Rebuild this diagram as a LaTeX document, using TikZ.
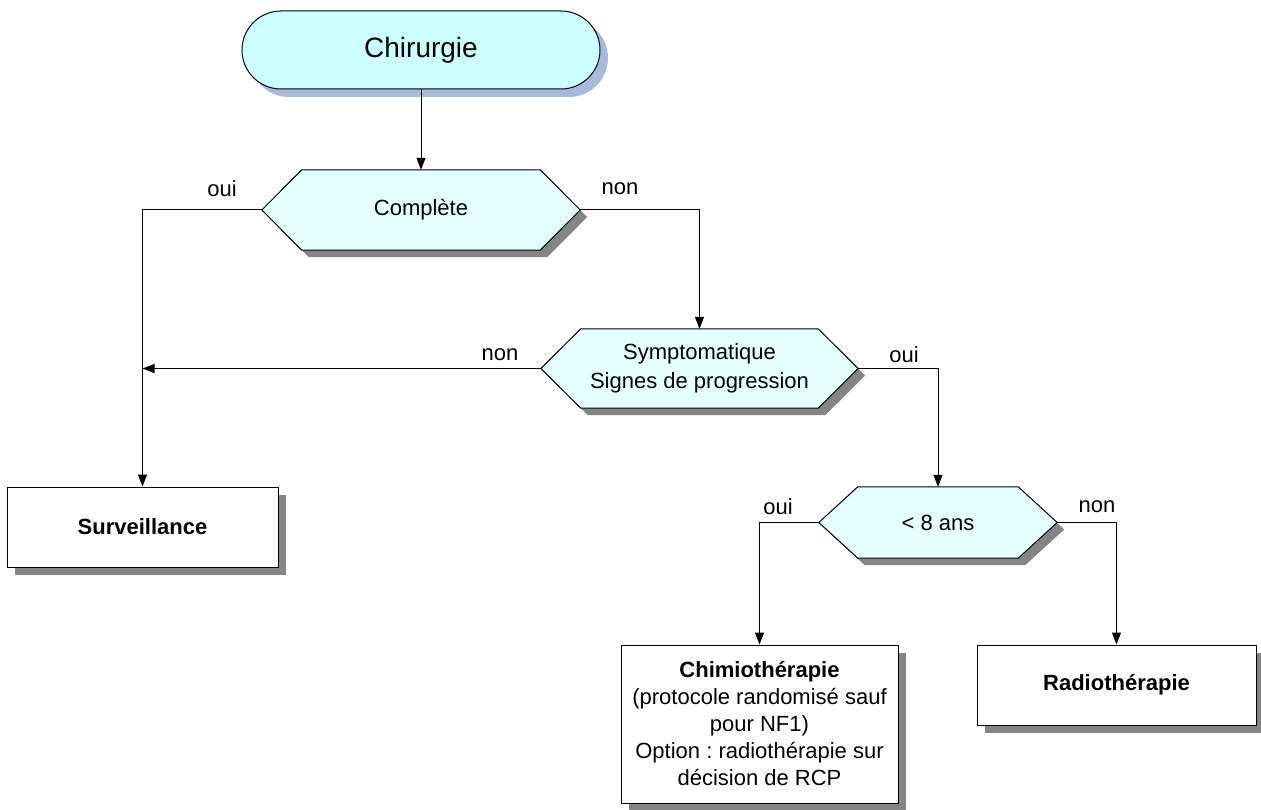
\documentclass[tikz,border=0pt]{standalone}
\usepackage{fontspec}
\setmainfont{Liberation Sans}
\frenchspacing
\usetikzlibrary{arrows.meta,shadows,backgrounds}
\definecolor{pillfill}{HTML}{CCFFFF}
\definecolor{hexfill}{HTML}{E6FFFF}
\definecolor{pillshadow}{HTML}{A8BADC}
\definecolor{boxshadow}{HTML}{858585}
\newcommand\hexpath[3]{([shift={(#3,#3)}]#1.west) -- ([shift={(#2+#3,#3)}]#1.north west) -- ([shift={(-#2+#3,#3)}]#1.north east) -- ([shift={(#3,#3)}]#1.east) -- ([shift={(-#2+#3,#3)}]#1.south east) -- ([shift={(#2+#3,#3)}]#1.south west) -- cycle}
\newcommand\drawhex[2]{%
  \begin{pgfonlayer}{background}
    \fill[boxshadow] \hexpath{#1}{#2}{7};
    \filldraw[fill=hexfill,draw=black,line width=1pt] \hexpath{#1}{#2}{0};
  \end{pgfonlayer}}
\tikzset{
  txt/.style={font=\fontsize{22}{25.3}\selectfont},
  pill/.style={txt,font=\fontsize{28}{32}\selectfont,draw,line width=1pt,fill=pillfill,rounded corners=39pt,
    minimum width=358pt,minimum height=78pt,inner sep=0pt,
    drop shadow={shadow xshift=8pt,shadow yshift=-8pt,fill=pillshadow,opacity=1}},
  hexnode/.style={txt,align=center,inner sep=0pt,minimum height=80pt},
  boxnode/.style={txt,align=center,draw,line width=1pt,fill=white,inner sep=0pt,minimum height=80pt,
    drop shadow={shadow xshift=8pt,shadow yshift=-8pt,fill=boxshadow,opacity=1}},
  lbl/.style={txt,inner sep=0pt},
  conn/.style={line width=1pt},
  arr/.style={conn,-{Triangle[length=12pt,width=9pt]}}
}
\begin{document}
\begin{tikzpicture}[x=1pt,y=-1pt]
\useasboundingbox (0,0) rectangle (1261,810);
\node[pill] (chir) at (421,50) {Chirurgie};
\node[hexnode,minimum width=318pt] (comp) at (421,210) {Complète};
\path (comp.center) ++(0,-1) coordinate (compc);
\drawhex{comp}{40}
\node[hexnode,minimum width=317pt,minimum height=79pt,font=\fontsize{22}{29}\selectfont] (symp) at (699.5,368.5) {Symptomatique\\Signes de progression};
\drawhex{symp}{40}
\node[hexnode,minimum width=238pt,minimum height=71pt] (age) at (938,522.5) {< 8 ans};
\drawhex{age}{39}
\node[boxnode,minimum width=271pt] (surv) at (142.5,527) {\textbf{Surveillance}};
\node[boxnode,minimum width=277pt,minimum height=158pt,font=\fontsize{22}{27}\selectfont] (chimio) at (759.5,724) {\textbf{Chimiothérapie}\\(protocole randomisé sauf\\pour NF1)\\Option : radiothérapie sur\\décision de RCP};
\node[boxnode,minimum width=279pt] (radio) at (1116.5,685) {\textbf{Radiothérapie}};
\draw[arr] (chir.south) -- (comp.north);
\draw[arr] (comp.west) -| (surv.north);
\draw[arr] (comp.east) -| (symp.north);
\draw[arr] (symp.west) -- (symp.west -| surv.north);
\draw[arr] (symp.east) -| (age.north);
\draw[arr] (age.west) -| (chimio.north);
\draw[arr] (age.east) -| (radio.north);
\node[lbl] (l1) at (222,189) {oui};
\node[lbl] (l2) at (620,189) {non};
\node[lbl] (l3) at (500,355) {non};
\node[lbl] (l4) at (904,355) {oui};
\node[lbl] (l5) at (778,507) {oui};
\node[lbl] (l6) at (1097,507) {non};
\end{tikzpicture}
\end{document}
